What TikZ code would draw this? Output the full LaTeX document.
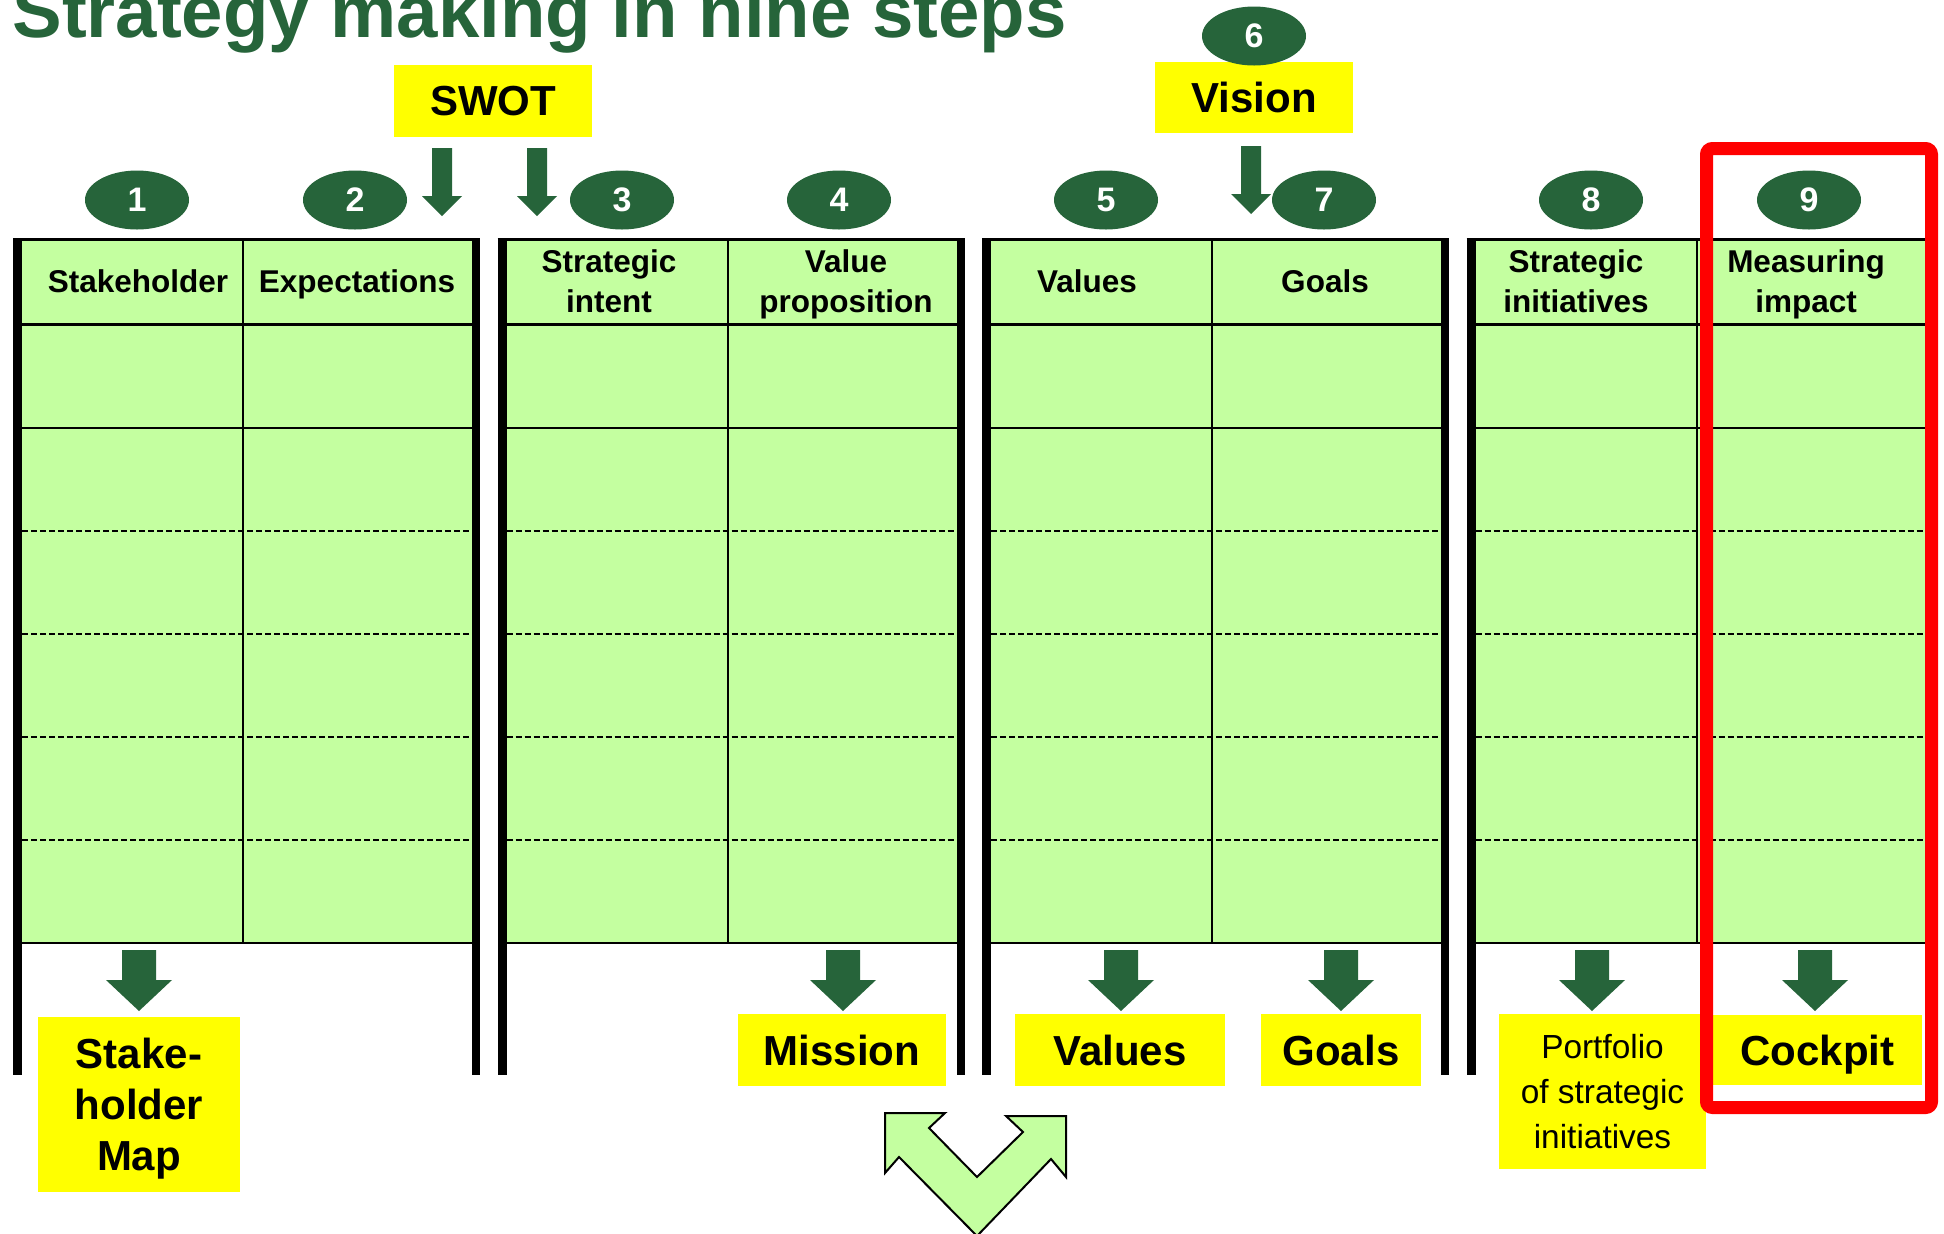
\documentclass[tikz,border=0pt]{standalone}
\usepackage{fontspec}
\setmainfont{Liberation Sans}
\usetikzlibrary{shapes.geometric}
\definecolor{dkgreen}{RGB}{38,100,58}
\definecolor{tabgreen}{RGB}{196,255,160}
\definecolor{ylw}{RGB}{255,255,0}
\definecolor{redbox}{RGB}{255,0,0}
\begin{document}
\begin{tikzpicture}[x=0.5pt,y=-0.5pt,
  numell/.style={ellipse, fill=dkgreen, text=white, font=\bfseries\fontsize{17}{20}\selectfont, minimum width=52pt, minimum height=29.5pt, inner sep=0pt},
  hdr/.style={font=\bfseries\fontsize{15.75}{20}\selectfont, align=center, inner sep=0pt, text depth=0pt},
  ybox/.style={fill=ylw, inner sep=0pt, font=\bfseries\fontsize{21}{25.5}\selectfont, align=center, text depth=0pt},
  plainbox/.style={fill=ylw, inner sep=0pt, font=\fontsize{16.7}{22.5}\selectfont, align=center, text depth=0pt},
  gridsolid/.style={line width=1.25pt},
  griddash/.style={line width=0.7pt, dash pattern=on 3pt off 1.5pt},
  smallarrow/.pic={\fill[dkgreen] (-10,0) -- (10,0) -- (10,48) -- (20,48) -- (0,68) -- (-20,48) -- (-10,48) -- cycle;},
  bigarrow/.pic={\fill[dkgreen] (-17,0) -- (17,0) -- (17,30) -- (33,30) -- (0,61) -- (-33,30) -- (-17,30) -- cycle;},
]
\useasboundingbox (0,0) rectangle (1944,1233);
\fill[white] (0,0) rectangle (1944,1233);

% title
\node[anchor=base west, inner sep=0pt, text=dkgreen, font=\bfseries\fontsize{37.2}{44}\selectfont] (title) at (12,37) {Strategy making in nine steps};

% table panels
\foreach \i in {0,1,2,3} {
  \pgfmathsetmacro{\xa}{13+484.5*\i}
  \fill[tabgreen] ({\xa+9},238) rectangle ({\xa+459},943);
  \draw[line width=1.5pt] (\xa,239.5) -- ({\xa+467},239.5);
  \draw[line width=1.5pt] ({\xa+9},324) -- ({\xa+459},324);
  \draw[gridsolid] ({\xa+9},428) -- ({\xa+459},428);
  \foreach \yy in {531,634,737,840} {
    \draw[griddash] ({\xa+9},\yy) -- ({\xa+459},\yy);
  }
  \draw[gridsolid] ({\xa+9},943) -- ({\xa+459},943);
  \draw[line width=1pt] ({\xa+230},238) -- ({\xa+230},943);
  \fill[black] (\xa,238) rectangle ({\xa+9},1075);
  \ifnum\i<3
    \fill[black] ({\xa+459},238) rectangle ({\xa+467},1075);
  \fi
}

% headers
\node[hdr] (h1) at (138,281) {Stakeholder};
\node[hdr] (h2) at (357,281) {Expectations};
\node[hdr] (h3) at (609,281) {Strategic\\intent};
\node[hdr] (h4) at (846,281) {Value\\proposition};
\node[hdr] (h5) at (1087,281) {Values};
\node[hdr] (h6) at (1325,281) {Goals};
\node[hdr] (h7) at (1576,281) {Strategic\\initiatives};
\node[hdr] (h8) at (1806,281) {Measuring\\impact};

% top yellow boxes
\node[ybox, minimum width=99pt, minimum height=36pt] (swot) at (493,101) {SWOT};
\node[ybox, minimum width=99pt, minimum height=35.5pt] (vision) at (1254,97.5) {Vision};

% number ellipses
\node[numell] (n1) at (137,200) {1};
\node[numell] (n2) at (355,200) {2};
\node[numell] (n3) at (622,200) {3};
\node[numell] (n4) at (839,200) {4};
\node[numell] (n5) at (1106,200) {5};
\node[numell] (n6) at (1254,36) {6};
\node[numell] (n7) at (1324,200) {7};
\node[numell] (n8) at (1591,200) {8};
\node[numell] (n9) at (1809,200) {9};

% small arrows
\pic at (442,148) {smallarrow};
\pic at (537,148) {smallarrow};
\pic at (1251,146) {smallarrow};

% bottom arrows
\pic at (139,950) {bigarrow};
\pic at (843,950) {bigarrow};
\pic at (1121,950) {bigarrow};
\pic at (1341,950) {bigarrow};
\pic at (1592,950) {bigarrow};
\pic at (1815,950) {bigarrow};

% bottom yellow boxes
\node[ybox, minimum width=101pt, minimum height=87.5pt] (smap) at (139,1104.5) {Stake-\\holder\\Map};
\node[ybox, minimum width=104pt, minimum height=36pt] (mission) at (842,1050) {Mission};
\node[ybox, minimum width=105pt, minimum height=36pt] (values) at (1120,1050) {Values};
\node[ybox, minimum width=80pt, minimum height=36pt] (goals) at (1341,1050) {Goals};
\node[plainbox, minimum width=103.5pt, minimum height=77.5pt] (portfolio) at (1602.5,1091.5) {Portfolio\\of strategic\\initiatives};
\node[ybox, minimum width=104.5pt, minimum height=35pt] (cockpit) at (1817.5,1050) {Cockpit};

% V double arrow
\draw[fill=tabgreen, line width=1pt, line join=miter] (885,1113) -- (945,1113) -- (929,1128) -- (977,1177) -- (1023,1132) -- (1006,1116) -- (1066,1116) -- (1066,1177) -- (1051,1159) -- (977,1236) -- (899,1157) -- (885,1173) -- cycle;

% red highlight
\draw[redbox, line width=6.5pt, rounded corners=3pt] (1706.5,148.5) rectangle (1931.5,1107.5);
\end{tikzpicture}
\end{document}
